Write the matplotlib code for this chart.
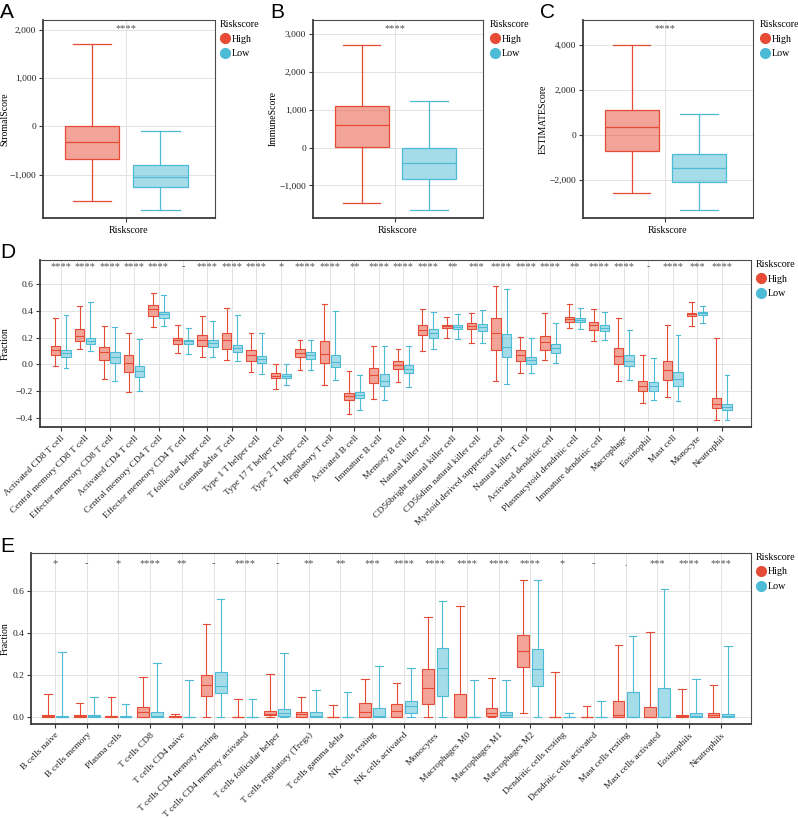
import numpy as np
import matplotlib
matplotlib.use('Agg')
import matplotlib.pyplot as plt
import matplotlib.transforms as mtransforms
from matplotlib.colors import to_rgba
from matplotlib.lines import Line2D
from matplotlib.ticker import FuncFormatter

plt.rcParams['font.family'] = ['Liberation Serif', 'DejaVu Serif']

W, H = 798, 818
HIGH_COLOR = '#E64B35'
LOW_COLOR = '#4DBBD5'

# ---- panels A-C: ESTIMATE scores, each as (whislo, q1, median, q3, whishi)
score_names = ['StromalScore', 'ImmuneScore', 'ESTIMATEScore']
score_high = [[-1542, -678, -325, 5, 1701],
              [-1455, 15, 608, 1103, 2725],
              [-2597, -713, 343, 1100, 4010]]
score_low = [[-1730, -1255, -1040, -795, -90],
             [-1650, -838, -415, -10, 1225],
             [-3354, -2107, -1456, -860, 922]]
score_ylims = [(-1898, 2207), (-1862, 3378), (-3706, 5127)]
score_yticks = [[-1000, 0, 1000, 2000], [-1000, 0, 1000, 2000, 3000], [-2000, 0, 2000, 4000]]
score_sig = ['****', '****', '****']

# ---- panel D: ssGSEA immune cells
ssgsea_cells = ['Activated CD8 T cell', 'Central memory CD8 T cell', 'Effector memeory CD8 T cell',
                'Activated CD4 T cell', 'Central memory CD4 T cell', 'Effector memeory CD4 T cell',
                'T follicular helper cell', 'Gamma delta T cell', 'Type 1 T helper cell',
                'Type 17 T helper cell', 'Type 2 T helper cell', 'Regulatory T cell',
                'Activated B cell', 'Immature B cell', 'Memory B cell', 'Natural killer cell',
                'CD56bright natural killer cell', 'CD56dim natural killer cell',
                'Myeloid derived suppressor cell', 'Natural killer T cell',
                'Activated dendritic cell', 'Plasmacytoid dendritic cell',
                'Immature dendritic cell', 'Macrophage', 'Eosinophil', 'Mast cell',
                'Monocyte', 'Neutrophil']
ssgsea_high = [
    [-0.015, 0.0675, 0.105, 0.1375, 0.35], [0.1125, 0.1725, 0.2125, 0.2675, 0.435],
    [-0.11, 0.0325, 0.0925, 0.1325, 0.29], [-0.205, -0.06, 0.0075, 0.07, 0.2375],
    [0.2775, 0.365, 0.4125, 0.4475, 0.5375], [0.085, 0.155, 0.18, 0.195, 0.295],
    [0.0525, 0.14, 0.185, 0.2175, 0.36], [0.0325, 0.1125, 0.185, 0.2325, 0.425],
    [-0.055, 0.0275, 0.0675, 0.1075, 0.2325], [-0.1875, -0.105, -0.085, -0.065, 0.0],
    [-0.045, 0.0525, 0.085, 0.115, 0.18], [-0.155, 0.0075, 0.0775, 0.1725, 0.455],
    [-0.375, -0.27, -0.24, -0.215, -0.0525], [-0.2625, -0.1425, -0.0825, -0.03, 0.14],
    [-0.135, -0.0375, -0.005, 0.0275, 0.1175], [0.1025, 0.2175, 0.2575, 0.2975, 0.415],
    [0.2, 0.27, 0.285, 0.2975, 0.3575], [0.16, 0.265, 0.2875, 0.3075, 0.3875],
    [-0.1275, 0.1075, 0.2375, 0.345, 0.5875], [-0.0625, 0.0275, 0.0725, 0.11, 0.2075],
    [0.03, 0.11, 0.1675, 0.215, 0.3825], [0.275, 0.3175, 0.3375, 0.3525, 0.45],
    [0.1725, 0.2575, 0.2925, 0.3175, 0.415], [-0.1275, 0.0025, 0.0625, 0.125, 0.35],
    [-0.2875, -0.2025, -0.165, -0.1275, 0.0725], [-0.2475, -0.1175, -0.045, 0.0275, 0.2925],
    [0.29, 0.3625, 0.3775, 0.3875, 0.47], [-0.42, -0.3275, -0.295, -0.255, 0.1975]]
ssgsea_low = [
    [-0.03, 0.0575, 0.0825, 0.1075, 0.37], [0.10, 0.1525, 0.175, 0.195, 0.47],
    [-0.125, 0.0125, 0.0575, 0.095, 0.2775], [-0.2025, -0.095, -0.05, -0.01, 0.1875],
    [0.2875, 0.3475, 0.3775, 0.395, 0.5175], [0.08, 0.1525, 0.175, 0.185, 0.27],
    [0.055, 0.1325, 0.1575, 0.185, 0.3275], [0.0225, 0.095, 0.12, 0.1475, 0.37],
    [-0.0725, 0.0125, 0.0375, 0.06, 0.2375], [-0.1575, -0.1025, -0.0875, -0.0725, 0.0025],
    [-0.04, 0.0425, 0.0675, 0.0925, 0.185], [-0.1175, -0.0225, 0.02, 0.0725, 0.3975],
    [-0.3425, -0.255, -0.23, -0.2075, -0.08], [-0.2675, -0.165, -0.1225, -0.075, 0.14],
    [-0.1675, -0.065, -0.035, -0.0075, 0.14], [0.1125, 0.195, 0.2325, 0.265, 0.39],
    [0.1925, 0.265, 0.28, 0.2925, 0.3775], [0.16, 0.25, 0.28, 0.30, 0.405],
    [-0.15, 0.0525, 0.13, 0.225, 0.5675], [-0.0675, 0.0, 0.0325, 0.0575, 0.20],
    [0.0075, 0.0875, 0.12, 0.155, 0.3075], [0.2675, 0.315, 0.33, 0.345, 0.42],
    [0.1825, 0.2475, 0.27, 0.2925, 0.395], [-0.115, -0.015, 0.0225, 0.0675, 0.2575],
    [-0.2675, -0.1975, -0.1625, -0.13, 0.045], [-0.2725, -0.1625, -0.1125, -0.055, 0.22],
    [0.3075, 0.37, 0.3825, 0.395, 0.44], [-0.4175, -0.3425, -0.3175, -0.2975, -0.0825]]
ssgsea_sig = ['****', '****', '****', '****', '****', '-', '****', '****', '****', '*',
              '****', '****', '**', '****', '****', '****', '**', '***', '****', '****',
              '****', '**', '****', '****', '-', '****', '***', '****']

# ---- panel E: CIBERSORT fractions
cibersort_cells = ['B cells naive', 'B cells memory', 'Plasma cells', 'T cells CD8',
                   'T cells CD4 naive', 'T cells CD4 memory resting',
                   'T cells CD4 memory activated', 'T cells follicular helper',
                   'T cells regulatory (Tregs)', 'T cells gamma delta', 'NK cells resting',
                   'NK cells activated', 'Monocytes', 'Macrophages M0', 'Macrophages M1',
                   'Macrophages M2', 'Dendritic cells resting', 'Dendritic cells activated',
                   'Mast cells resting', 'Mast cells activated', 'Eosinophils', 'Neutrophils']
cibersort_high = [
    [0, 0, 0.003, 0.008, 0.108], [0, 0, 0.003, 0.008, 0.065], [0, 0, 0.003, 0.006, 0.097],
    [0, 0, 0.024, 0.049, 0.192], [0, 0, 0.001, 0.005, 0.016], [0, 0.102, 0.152, 0.198, 0.441],
    [0, 0, 0, 0, 0.086], [0, 0.008, 0.014, 0.029, 0.206], [0, 0, 0.014, 0.025, 0.095],
    [0, 0, 0, 0, 0.056], [0, 0, 0.025, 0.068, 0.181], [0, 0, 0.027, 0.06, 0.16],
    [0, 0.06, 0.138, 0.229, 0.475], [0, 0, 0, 0.111, 0.529], [0, 0.006, 0.017, 0.041, 0.187],
    [0.017, 0.24, 0.313, 0.389, 0.651], [0, 0, 0, 0, 0.213], [0, 0, 0, 0, 0.054],
    [0, 0, 0.008, 0.075, 0.341], [0, 0, 0, 0.048, 0.403], [0, 0, 0.003, 0.01, 0.133],
    [0, 0, 0.011, 0.021, 0.151]]
cibersort_low = [
    [0, 0, 0.001, 0.003, 0.308], [0, 0, 0.004, 0.008, 0.095], [0, 0, 0.002, 0.005, 0.06],
    [0, 0, 0.005, 0.022, 0.257], [0, 0, 0, 0, 0.175], [0, 0.113, 0.148, 0.216, 0.56],
    [0, 0, 0, 0, 0.086], [0, 0.006, 0.017, 0.037, 0.303], [0, 0, 0.006, 0.025, 0.13],
    [0, 0, 0, 0, 0.12], [0, 0, 0.006, 0.044, 0.245], [0, 0.017, 0.051, 0.075, 0.232],
    [0, 0.1, 0.235, 0.327, 0.554], [0, 0, 0, 0, 0.175], [0, 0, 0.01, 0.022, 0.175],
    [0, 0.149, 0.229, 0.322, 0.651], [0, 0, 0, 0, 0.021], [0, 0, 0, 0, 0.078],
    [0, 0, 0, 0.117, 0.386], [0, 0, 0, 0.137, 0.61], [0, 0, 0.006, 0.021, 0.181],
    [0, 0, 0.003, 0.013, 0.34]]
cibersort_sig = ['*', '-', '*', '****', '**', '-', '****', '-', '**', '**', '***', '****',
                 '****', '****', '****', '****', '*', '-', '.', '***', '****', '****']


def px_axes(fig, left, top, right, bottom):
    # place an axes using pixel coordinates measured from the top-left corner
    return fig.add_axes([left / W, 1 - bottom / H, (right - left) / W, (bottom - top) / H])


def to_stats(v):
    return dict(whislo=v[0], q1=v[1], med=v[2], q3=v[3], whishi=v[4], fliers=[])


def draw_boxes(ax, high, low, offset, width, capw, lw=0.9):
    positions = np.arange(len(high))
    for data, sign, color in ((high, -1, HIGH_COLOR), (low, 1, LOW_COLOR)):
        ax.bxp([to_stats(v) for v in data], positions=positions + sign * offset,
               widths=width, capwidths=capw, patch_artist=True, showfliers=False,
               manage_ticks=False,
               boxprops=dict(facecolor=to_rgba(color, 0.5), edgecolor=color, linewidth=lw),
               whiskerprops=dict(color=color, linewidth=lw),
               capprops=dict(color=color, linewidth=lw),
               medianprops=dict(color=color, linewidth=lw))


def style_axes(ax):
    ax.set_axisbelow(True)
    ax.grid(True, color='#e3e3e3', linewidth=0.7)
    for side in ('left', 'bottom'):
        ax.spines[side].set_linewidth(1.3)
        ax.spines[side].set_color('#3a3a3a')
    for side in ('top', 'right'):
        ax.spines[side].set_linewidth(0.8)
        ax.spines[side].set_color('#4a4a4a')
    ax.tick_params(labelsize=6.8, length=3, width=0.8, color='#3a3a3a', labelcolor='#222222', pad=2)


def add_sig(ax, labels, yfrac):
    trans = mtransforms.blended_transform_factory(ax.transData, ax.transAxes)
    for i, s in enumerate(labels):
        ax.text(i, yfrac, s, transform=trans, ha='center', va='center', fontsize=7.5, color='#555555')


def add_legend(ax, x, y):
    handles = [Line2D([], [], marker='o', linestyle='', markersize=7, color=HIGH_COLOR, label='High'),
               Line2D([], [], marker='o', linestyle='', markersize=7, color=LOW_COLOR, label='Low')]
    ax.legend(handles=handles, title='Riskscore', loc='upper left', bbox_to_anchor=(x / W, 1 - y / H),
              bbox_transform=ax.figure.transFigure, frameon=False, fontsize=7.2, title_fontsize=7.2,
              alignment='left', borderpad=0, borderaxespad=0, handletextpad=0.15,
              handlelength=1.0, labelspacing=0.55)


fig = plt.figure(figsize=(W / 100, H / 100), dpi=100)

# ---- A, B, C
score_boxes = [(43, 215), (313, 483), (583, 753)]
label_right = [9.5, 277.5, 547.5]
comma_fmt = FuncFormatter(lambda v, p: '{:,.0f}'.format(v).replace('-', '\u2212'))
for k in range(3):
    left, right = score_boxes[k]
    ax = px_axes(fig, left, 20, right, 218)
    draw_boxes(ax, [score_high[k]], [score_low[k]], offset=0.25, width=0.4, capw=0.28)
    style_axes(ax)
    ax.set_xlim(-0.61, 0.65)
    ax.set_ylim(*score_ylims[k])
    ax.set_yticks(score_yticks[k])
    ax.yaxis.set_major_formatter(comma_fmt)
    ax.set_xticks([0])
    ax.set_xticklabels([''])
    ax.set_xlabel('Riskscore', fontsize=7.2, labelpad=1)
    ax.set_ylabel(score_names[k], fontsize=7)
    ax.yaxis.set_label_coords((label_right[k] - left) / (right - left), 0.5)
    add_sig(ax, [score_sig[k]], 0.955)
    add_legend(ax, 220 + k * 270, 20)

# ---- D
axd = px_axes(fig, 40, 260, 751, 427)
draw_boxes(axd, ssgsea_high, ssgsea_low, offset=0.22, width=0.38, capw=0.2, lw=0.8)
style_axes(axd)
axd.set_xlim(-0.84, 28.2)
axd.set_ylim(-0.47, 0.782)
axd.set_yticks([-0.4, -0.2, 0.0, 0.2, 0.4, 0.6])
axd.set_xticks(np.arange(len(ssgsea_cells)))
axd.set_xticklabels(ssgsea_cells, rotation=45, ha='right', rotation_mode='anchor', fontsize=6.8)
axd.set_ylabel('Fraction', fontsize=7)
axd.yaxis.set_label_coords(-0.043, 0.5)
add_sig(axd, ssgsea_sig, 0.958)
add_legend(axd, 756, 260)

# ---- E
axe = px_axes(fig, 31, 553, 751, 724)
draw_boxes(axe, cibersort_high, cibersort_low, offset=0.225, width=0.37, capw=0.24, lw=0.8)
style_axes(axe)
axe.set_xlim(-0.76, 21.96)
axe.set_ylim(-0.033, 0.781)
axe.set_yticks([0.0, 0.2, 0.4, 0.6])
axe.set_xticks(np.arange(len(cibersort_cells)))
axe.set_xticklabels(cibersort_cells, rotation=45, ha='right', rotation_mode='anchor', fontsize=6.8)
axe.set_ylabel('Fraction', fontsize=7)
axe.yaxis.set_label_coords(-0.030, 0.5)
add_sig(axe, cibersort_sig, 0.94)
add_legend(axe, 756, 553)

# panel letters
for letter, x, y in (('A', 0, 18), ('B', 270, 18), ('C', 540, 18), ('D', 0, 258), ('E', 0, 552)):
    fig.text(x / W, 1 - y / H, letter, fontsize=15, family='Liberation Sans', va='baseline', ha='left')

fig.savefig('out.png', dpi=100)
